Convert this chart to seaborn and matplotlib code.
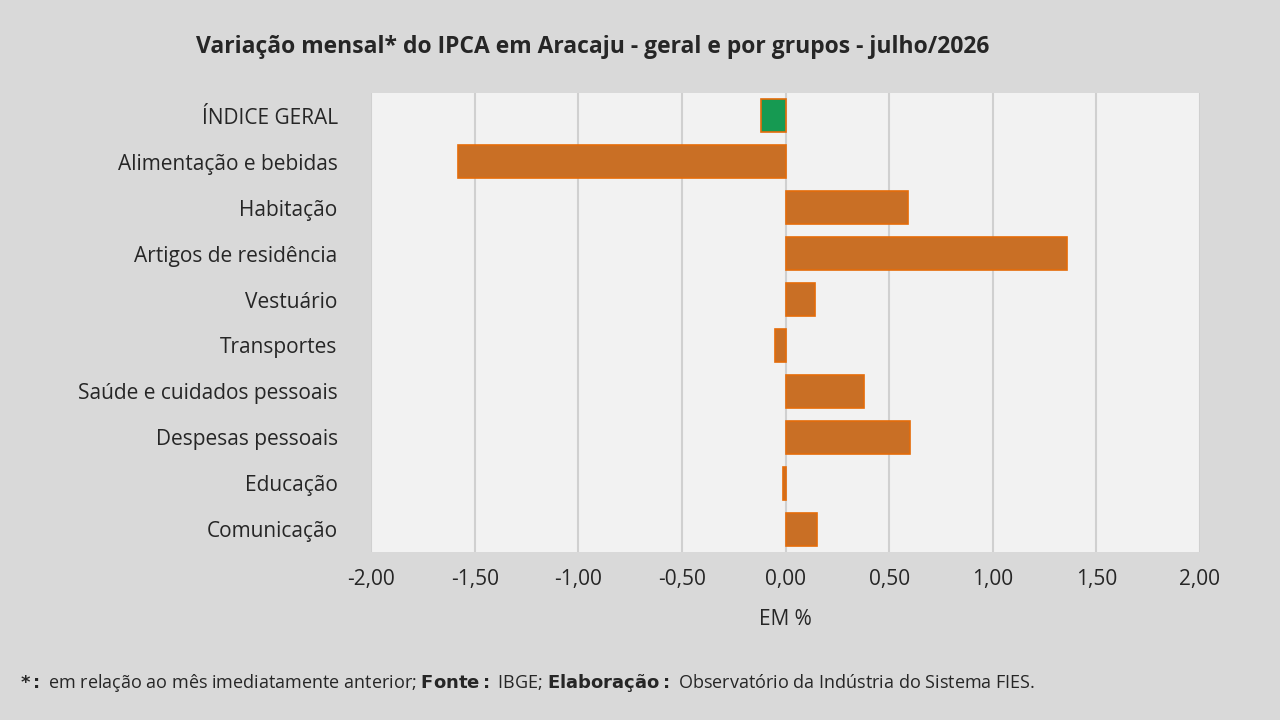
import matplotlib
matplotlib.use("Agg")
import matplotlib.pyplot as plt
import seaborn as sns
import pandas as pd

categorias = ["ÍNDICE GERAL", "Alimentação e bebidas", "Habitação", "Artigos de residência",
              "Vestuário", "Transportes", "Saúde e cuidados pessoais", "Despesas pessoais",
              "Educação", "Comunicação"]
variacao = [-0.12, -1.58, 0.59, 1.36, 0.14, -0.05, 0.38, 0.60, -0.01, 0.15]
ticks = [-2.0, -1.5, -1.0, -0.5, 0.0, 0.5, 1.0, 1.5, 2.0]

df = pd.DataFrame({"Grupo": categorias, "Var": variacao})

sns.set_theme(style="white")
plt.rcParams["font.family"] = ["Open Sans", "DejaVu Sans"]

fig = plt.figure(figsize=(12.8, 7.2), dpi=100, facecolor="#d9d9d9")
ax = fig.add_axes([371 / 1280, 1 - 552 / 720, 829 / 1280, 459 / 720])
ax.set_facecolor("#f2f2f2")

cores = ["#00b050"] + ["#e46c0a"] * (len(categorias) - 1)
sns.barplot(data=df, x="Var", y="Grupo", hue="Grupo", palette=cores, legend=False,
            width=0.72, edgecolor="#e46c0a", linewidth=1.2, ax=ax, zorder=3)

ax.set_xlim(-2, 2)
ax.set_xticks(ticks)
ax.set_xticklabels([f"{t:.2f}".replace(".", ",") for t in ticks], fontsize=15)
ax.tick_params(axis="y", labelsize=15, length=0, pad=24)
ax.tick_params(axis="x", length=0, pad=12)
ax.grid(axis="x", color="#d0d0d0", linewidth=1.5, zorder=0)
for s in ax.spines.values():
    s.set_visible(False)
ax.set_ylabel("")
ax.set_xlabel("EM %", fontsize=15, labelpad=14)

fig.text(0.463, 0.935, "Variação mensal* do IPCA em Aracaju - geral e por grupos - julho/2026",
         ha="center", va="center", fontsize=16.5, fontweight="bold")
fig.text(0.016, 0.052,
         r"$\bf{*:}$ em relação ao mês imediatamente anterior; $\bf{Fonte:}$ IBGE; "
         r"$\bf{Elaboração:}$ Observatório da Indústria do Sistema FIES.",
         ha="left", va="center", fontsize=13)

fig.savefig("out.png", dpi=100, facecolor=fig.get_facecolor())
